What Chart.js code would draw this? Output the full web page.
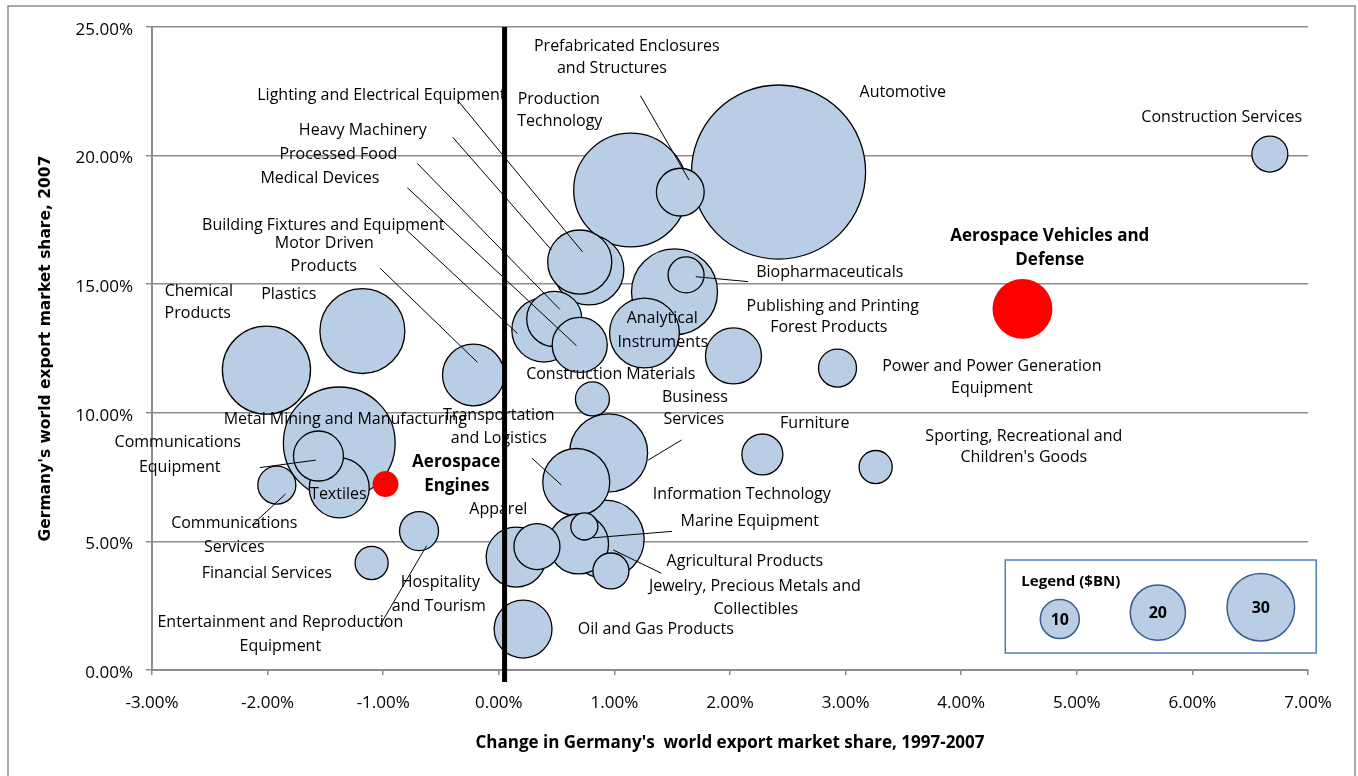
<!DOCTYPE html>
<html>
<head>
<meta charset="utf-8">
<title>Germany: world export market share by cluster</title>
<style>
  html, body { margin: 0; padding: 0; background: #ffffff; }
  canvas { display: block; }
</style>
<script src="https://cdn.jsdelivr.net/npm/chart.js@4.4.1/dist/chart.umd.min.js"></script>
</head>
<body>
<canvas id="chart" width="1358" height="776"></canvas>
<script>
// ---- Data: one entry per export cluster ----
const categories = [
  'Automotive', 'Production Technology', 'Prefabricated Enclosures and Structures',
  'Construction Services', 'Lighting and Electrical Equipment', 'Heavy Machinery',
  'Biopharmaceuticals', 'Publishing and Printing', 'Analytical Instruments',
  'Forest Products', 'Power and Power Generation Equipment', 'Aerospace Vehicles and Defense',
  'Building Fixtures and Equipment', 'Processed Food', 'Medical Devices',
  'Construction Materials', 'Motor Driven Products', 'Chemical Products', 'Plastics',
  'Metal Mining and Manufacturing', 'Communications Equipment', 'Textiles',
  'Communications Services', 'Aerospace Engines', 'Entertainment and Reproduction Equipment',
  'Financial Services', 'Business Services', 'Transportation and Logistics',
  'Agricultural Products', 'Information Technology', 'Marine Equipment',
  'Jewelry, Precious Metals and Collectibles', 'Hospitality and Tourism', 'Apparel',
  'Oil and Gas Products', 'Furniture', "Sporting, Recreational and Children's Goods"
];
// Change in Germany's world export market share, 1997-2007 (percentage points)
const shareChange = [
  2.42, 1.14, 1.57, 6.67, 0.70, 0.78, 1.62, 1.52, 1.26, 2.03, 2.93, 4.53,
  0.39, 0.48, 0.70, 0.81, -0.22, -2.01, -1.18, -1.38, -1.56, -1.38, -1.92, -0.98,
  -0.69, -1.10, 0.95, 0.67, 0.92, 0.69, 0.74, 0.97, 0.15, 0.33, 0.21, 2.28, 3.26
];
// Germany's world export market share, 2007 (%)
const share2007 = [
  19.36, 18.66, 18.58, 20.06, 15.86, 15.55, 15.36, 14.70, 13.10, 12.21, 11.74, 14.04,
  13.22, 13.65, 12.64, 10.54, 11.47, 11.66, 13.18, 8.83, 8.32, 7.08, 7.19, 7.23,
  5.40, 4.16, 8.44, 7.31, 5.09, 4.90, 5.58, 3.85, 4.39, 4.80, 1.59, 8.38, 7.89
];
// Export value, $BN (bubble area)
const exportsBn = [
  199, 85, 15, 8.5, 27, 32, 8.5, 48.6, 32, 20.6, 9.5, 23.6,
  27, 20, 19.9, 7.6, 25, 51, 47.4, 82, 16.4, 23.6, 9.5, 4.4,
  10, 7.2, 40, 29.5, 40, 23.6, 4.8, 8.5, 23.6, 13.9, 22, 11, 7.2
];
// Clusters drawn in red
const highlighted = ['Aerospace Vehicles and Defense', 'Aerospace Engines'];

// Axis ranges and tick steps (percent)
const xRange = [-3, 7];
const yRange = [0, 25];
const xStep = 1;
const yStep = 5;

// Legend key values ($BN)
const legendValues = [10, 20, 30];

// Vertical reference line (percentage points) and its vertical extent
const referenceX = 0.05;
const referenceSpan = [25, -0.47];

// ---- Layout of annotations (data units) ----
const labelLines = [
  ['Prefabricated Enclosures', 1.107, 24.26],
  ['and Structures', 0.978, 23.37],
  ['Lighting and Electrical Equipment', -1.016, 22.32],
  ['Production', 0.519, 22.20],
  ['Technology', 0.528, 21.31],
  ['Automotive', 3.495, 22.47],
  ['Construction Services', 6.254, 21.50],
  ['Heavy Machinery', -1.176, 20.96],
  ['Processed Food', -1.388, 20.06],
  ['Medical Devices', -1.548, 19.13],
  ['Building Fixtures and Equipment', -1.518, 17.30],
  ['Motor Driven', -1.510, 16.60],
  ['Products', -1.514, 15.71],
  ['Aerospace Vehicles and', 4.766, 16.87, true],
  ['Defense', 4.766, 15.94, true],
  ['Biopharmaceuticals', 2.863, 15.44],
  ['Chemical', -2.595, 14.70],
  ['Products', -2.604, 13.88],
  ['Plastics', -1.817, 14.62],
  ['Publishing and Printing', 2.889, 14.15],
  ['Forest Products', 2.855, 13.30],
  ['Analytical', 1.414, 13.65],
  ['Instruments', 1.419, 12.75],
  ['Power and Power Generation', 4.265, 11.82],
  ['Equipment', 4.265, 10.96],
  ['Construction Materials', 0.969, 11.51],
  ['Business', 1.696, 10.61],
  ['Services', 1.687, 9.76],
  ['Transportation', 0.0, 9.88],
  ['and Logistics', 0.0, 9.02],
  ['Metal Mining and Manufacturing', -1.328, 9.76],
  ['Furniture', 2.734, 9.60],
  ['Sporting, Recreational and', 4.542, 9.10],
  ["Children's Goods", 4.542, 8.28],
  ['Communications', -2.777, 8.83],
  ['Equipment', -2.760, 7.89],
  ['Aerospace', -0.368, 8.09, true],
  ['Engines', -0.363, 7.15, true],
  ['Textiles', -1.388, 6.84],
  ['Information Technology', 2.102, 6.84],
  ['Apparel', -0.004, 6.26],
  ['Marine Equipment', 2.171, 5.79],
  ['Communications', -2.288, 5.68],
  ['Services', -2.288, 4.78],
  ['Agricultural Products', 2.128, 4.24],
  ['Financial Services', -2.007, 3.77],
  ['Hospitality', -0.506, 3.42],
  ['Jewelry, Precious Metals and', 2.215, 3.23],
  ['Collectibles', 2.223, 2.37],
  ['and Tourism', -0.519, 2.49],
  ['Entertainment and Reproduction', -1.890, 1.83],
  ['Equipment', -1.890, 0.93],
  ['Oil and Gas Products', 1.358, 1.56]
];

// Leader lines from labels to bubbles: [x1, y1, x2, y2]
const leaderLines = [
  [1.225, 22.33, 1.646, 19.05],
  [-0.358, 22.16, 0.724, 16.26],
  [-0.398, 20.71, 0.456, 16.33],
  [-0.706, 19.70, 0.528, 14.02],
  [-0.791, 18.75, 0.672, 12.61],
  [-0.804, 17.13, 0.160, 13.09],
  [-1.026, 15.62, -0.184, 11.96],
  [1.704, 15.29, 2.157, 15.10],
  [1.292, 8.16, 1.580, 8.94],
  [0.288, 8.23, 0.542, 7.19],
  [0.816, 5.14, 1.499, 5.39],
  [0.989, 4.67, 1.407, 3.76],
  [-2.067, 7.87, -1.583, 8.16],
  [-1.845, 6.84, -2.134, 5.64],
  [-0.625, 4.83, -1.035, 1.68]
];

// Bubble-size key placement (data units)
const legendBox = { left: 4.381, right: 7.071, top: 4.277, bottom: 0.661 };
const legendTitleAt = [4.948, 3.42];
const legendKeyAt = [[4.853, 1.98], [5.701, 2.23], [6.592, 2.44]];

// ---- Styling ----
const BLUE = '#B9CDE5';
const RED = '#FF0000';
const GRID = '#8c8c8c';
const LABEL_FONT = '"Open Sans", "DejaVu Sans", sans-serif';
const bubbleScale = 6.17;               // px of radius per sqrt($BN)
const radiusFor = v => bubbleScale * Math.sqrt(v);

// Build bubble points; biggest first so smaller bubbles sit on top
function buildPoints(wantRed) {
  const pts = [];
  categories.forEach((name, i) => {
    if (highlighted.includes(name) !== wantRed) return;
    pts.push({ x: shareChange[i], y: share2007[i], r: radiusFor(exportsBn[i]), name, size: exportsBn[i] });
  });
  return pts.sort((a, b) => b.size - a.size);
}

const annotations = {
  id: 'annotations',
  beforeDraw(chart) {
    const { ctx, width, height } = chart;
    ctx.save();
    ctx.fillStyle = '#ffffff';
    ctx.fillRect(0, 0, width, height);
    ctx.strokeStyle = '#8c8c8c';
    ctx.lineWidth = 1.5;
    ctx.strokeRect(8, 6, width - 11, height + 20);
    ctx.restore();
  },
  beforeDatasetDraw(chart, args) {
    if (args.meta.type !== 'line') return;
    const { ctx } = chart;
    const xs = chart.scales.x, ys = chart.scales.y;
    const px = v => xs.getPixelForValue(v);
    const py = v => ys.getPixelForValue(v);
    ctx.save();

    // leader lines
    ctx.strokeStyle = '#000';
    ctx.lineWidth = 1;
    leaderLines.forEach(([x1, y1, x2, y2]) => {
      ctx.beginPath();
      ctx.moveTo(px(x1), py(y1));
      ctx.lineTo(px(x2), py(y2));
      ctx.stroke();
    });

    // cluster labels
    ctx.textAlign = 'center';
    ctx.textBaseline = 'middle';
    ctx.fillStyle = '#000';
    labelLines.forEach(([text, x, y, bold]) => {
      ctx.font = bold ? `bold 17px ${LABEL_FONT}` : `16px ${LABEL_FONT}`;
      ctx.fillText(text, px(x), py(y));
    });

    // bubble-size key
    const l = px(legendBox.left), r = px(legendBox.right);
    const t = py(legendBox.top), b = py(legendBox.bottom);
    ctx.fillStyle = '#ffffff';
    ctx.fillRect(l, t, r - l, b - t);
    ctx.strokeStyle = '#4F81BD';
    ctx.lineWidth = 1.5;
    ctx.strokeRect(l, t, r - l, b - t);
    ctx.fillStyle = '#000';
    ctx.font = `bold 15px ${LABEL_FONT}`;
    ctx.fillText('Legend ($BN)', px(legendTitleAt[0]), py(legendTitleAt[1]));
    legendValues.forEach((v, i) => {
      const cx = px(legendKeyAt[i][0]), cy = py(legendKeyAt[i][1]);
      ctx.beginPath();
      ctx.arc(cx, cy, radiusFor(v), 0, Math.PI * 2);
      ctx.fillStyle = BLUE;
      ctx.fill();
      ctx.strokeStyle = '#385D8A';
      ctx.lineWidth = 1.5;
      ctx.stroke();
      ctx.fillStyle = '#000';
      ctx.font = `bold 16px ${LABEL_FONT}`;
      ctx.fillText(String(v), cx, cy + 1);
    });
    ctx.restore();
  }
};

function build() {
  new Chart(document.getElementById('chart'), {
    type: 'bubble',
    data: {
      datasets: [
        {
          type: 'line',
          data: referenceSpan.map(y => ({ x: referenceX, y })),
          borderColor: '#000',
          borderWidth: 5,
          pointRadius: 0,
          clip: false,
          order: 0
        },
        {
          data: buildPoints(true),
          backgroundColor: RED,
          borderWidth: 0,
          order: 1
        },
        {
          data: buildPoints(false),
          backgroundColor: BLUE,
          borderColor: '#000',
          borderWidth: 1.3,
          order: 2
        }
      ]
    },
    options: {
      responsive: false,
      animation: false,
      events: [],
      layout: { autoPadding: false, padding: { left: 0, right: 50, top: 27, bottom: 0 } },
      plugins: { legend: { display: false }, tooltip: { enabled: false } },
      scales: {
        x: {
          type: 'linear',
          min: xRange[0], max: xRange[1],
          afterFit(scale) { scale.height = 106; },
          border: { display: true, color: GRID, width: 2 },
          grid: { drawOnChartArea: false, drawTicks: true, tickLength: 5, color: GRID, lineWidth: 1.5 },
          ticks: {
            stepSize: xStep, padding: 18, color: '#000',
            font: { family: LABEL_FONT, size: 17 },
            callback: v => v.toFixed(2) + '%'
          },
          title: {
            display: true,
            text: "Change in Germany's  world export market share, 1997-2007",
            color: '#000',
            font: { family: LABEL_FONT, size: 17, weight: 'bold' },
            padding: { top: 0, bottom: 23 }
          }
        },
        y: {
          type: 'linear',
          min: yRange[0], max: yRange[1],
          afterFit(scale) { scale.width = 152; },
          border: { display: true, color: GRID, width: 2 },
          grid: { drawOnChartArea: true, drawTicks: true, tickLength: 6, color: GRID, lineWidth: 1.5 },
          ticks: {
            stepSize: yStep, padding: 13, color: '#000', labelOffset: 3,
            font: { family: LABEL_FONT, size: 17 },
            callback: v => v.toFixed(2) + '%'
          },
          title: {
            display: true,
            text: "Germany's world export market share, 2007",
            color: '#000',
            font: { family: '"DejaVu Sans", sans-serif', size: 15.5, weight: 'bold' },
            padding: { top: 37, bottom: 0 }
          }
        }
      }
    },
    plugins: [annotations]
  });
}

const fontLoads = [
  '16px "Open Sans"', 'bold 16px "Open Sans"', 'bold 15px "DejaVu Sans"'
].map(f => document.fonts.load(f).catch(() => null));
Promise.all(fontLoads).then(build, build);
</script>
</body>
</html>
